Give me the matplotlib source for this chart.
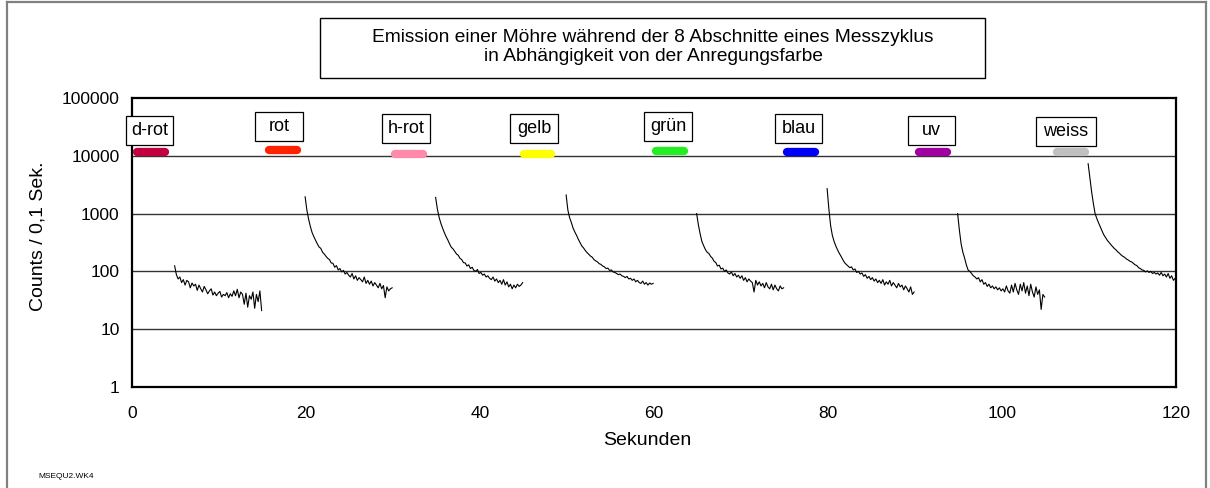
import numpy as np
import matplotlib.pyplot as plt
from matplotlib.patches import Rectangle
from matplotlib.lines import Line2D

plt.rcParams['font.family'] = ['Liberation Sans', 'DejaVu Sans']

# --- Messdaten: 8 Abschnitte, Zaehlrate alle 0,2 s ab Messbeginn ---
farben = ['d-rot', 'rot', 'h-rot', 'gelb', 'grün', 'blau', 'uv', 'weiss']
mess_start = [4.9, 19.9, 34.9, 49.9, 64.9, 79.9, 94.9, 109.9]
dt = 0.2
# Anregung (Lampe an) je Abschnitt, Sekunden
anreg_von = [0.6, 15.8, 30.25, 45.0, 60.2, 75.3, 90.5, 106.3]
anreg_bis = [3.8, 19.0, 33.45, 48.2, 63.4, 78.5, 93.7, 109.5]

counts_drot = [125, 88, 74, 80, 64, 72, 58, 70, 66, 52, 63, 56, 60, 47, 58, 50,
               44, 55, 48, 41, 46, 50, 39, 44, 38, 42, 45, 36, 40, 38, 43, 35,
               41, 37, 46, 38, 49, 35, 44, 40, 27, 42, 24, 38, 33, 44, 23, 40,
               30, 46, 21]
counts_rot = [1950, 1150, 800, 600, 470, 400, 345, 300, 265, 250, 215, 200, 182,
              168, 160, 140, 138, 118, 126, 106, 112, 98, 104, 90, 96, 86, 80,
              92, 74, 84, 70, 78, 72, 66, 80, 62, 70, 60, 68, 56, 64, 58, 52, 62,
              50, 57, 35, 54, 46, 50, 52]
counts_hrot = [1900, 1200, 860, 680, 560, 470, 400, 350, 300, 262, 245, 222, 200,
               190, 168, 160, 142, 140, 124, 130, 112, 118, 104, 100, 108, 92, 96,
               86, 90, 80, 84, 76, 72, 80, 68, 74, 64, 70, 60, 72, 58, 66, 54, 60,
               50, 58, 52, 60, 55, 58, 64]
counts_gelb = [2100, 1150, 850, 700, 560, 480, 420, 360, 315, 275, 255, 230, 212,
               198, 184, 176, 160, 152, 146, 136, 132, 124, 120, 112, 114, 104,
               106, 98, 96, 92, 88, 90, 84, 82, 78, 82, 74, 76, 70, 74, 66, 70,
               64, 62, 68, 60, 64, 58, 63, 60, 62]
counts_gruen = [1000, 640, 450, 330, 280, 240, 215, 205, 182, 170, 150, 142, 124,
                128, 110, 114, 100, 106, 94, 90, 98, 84, 92, 80, 86, 76, 84, 70,
                78, 66, 74, 68, 64, 44, 70, 58, 66, 56, 62, 52, 64, 54, 50, 60, 48,
                58, 50, 46, 56, 50, 52]
counts_blau = [2700, 1200, 620, 420, 330, 275, 235, 205, 182, 160, 142, 132, 124,
               116, 120, 106, 110, 96, 100, 90, 94, 82, 88, 76, 82, 72, 78, 68, 74,
               64, 70, 62, 72, 58, 66, 60, 70, 56, 64, 58, 52, 62, 54, 58, 48, 56,
               50, 44, 54, 40, 44]
counts_uv = [1000, 520, 300, 215, 170, 130, 106, 100, 92, 84, 80, 74, 78, 66, 72,
             60, 64, 55, 60, 52, 56, 50, 54, 48, 52, 46, 50, 44, 56, 46, 42, 58,
             44, 62, 48, 40, 60, 46, 64, 42, 56, 38, 60, 44, 36, 54, 40, 48, 22,
             40, 36]
counts_weiss = [7300, 4200, 2400, 1500, 1000, 820, 690, 590, 500, 430, 385, 345,
                318, 292, 270, 250, 236, 218, 206, 192, 182, 175, 164, 158, 150,
                146, 138, 130, 126, 116, 112, 106, 104, 98, 102, 96, 100, 92, 96,
                90, 94, 86, 96, 84, 90, 80, 92, 76, 84, 70, 76]

alle_counts = [counts_drot, counts_rot, counts_hrot, counts_gelb,
               counts_gruen, counts_blau, counts_uv, counts_weiss]

# --- Layout ---
balken_farbe = ['#C2003F', '#FF2200', '#FF8AAA', '#FFFF00',
                '#22EE22', '#0000F5', '#A000A0', '#C0C0C0']
balken_y = [11600, 12400, 10700, 10700, 12200, 11600, 11600, 11600]
box_x = [2.03, 16.88, 31.5, 46.2, 61.6, 76.6, 91.9, 107.35]
box_logy = [4.44, 4.50, 4.47, 4.47, 4.50, 4.47, 4.44, 4.42]
box_breite = [5.45, 5.45, 5.45, 5.45, 5.45, 5.45, 5.5, 6.85]

fig = plt.figure(figsize=(12.1, 4.88), dpi=100)
ax = fig.add_axes([132 / 1210, 1 - 387 / 488, 1044 / 1210, 289 / 488])

for t0, werte in zip(mess_start, alle_counts):
    t = t0 + dt * np.arange(len(werte))
    ax.plot(t, werte, color='black', lw=0.8)

for i in range(len(farben)):
    ax.plot([anreg_von[i], anreg_bis[i]], [balken_y[i], balken_y[i]],
            color=balken_farbe[i], lw=6, solid_capstyle='round', zorder=4,
            clip_on=False)
    lo = 10 ** (box_logy[i] - 0.25)
    hi = 10 ** (box_logy[i] + 0.25)
    ax.add_patch(Rectangle((box_x[i] - box_breite[i] / 2, lo), box_breite[i],
                           hi - lo, facecolor='white', edgecolor='black',
                           lw=0.9, zorder=5, clip_on=False))
    ax.text(box_x[i], 10 ** box_logy[i], farben[i], ha='center', va='center',
            fontsize=13, zorder=6, clip_on=False)

ax.set_yscale('log')
ax.set_ylim(1, 100000)
ax.set_xlim(0, 120)
ax.set_yticks([1, 10, 100, 1000, 10000, 100000])
ax.set_yticklabels(['1', '10', '100', '1000', '10000', '100000'])
ax.yaxis.set_minor_locator(plt.NullLocator())
ax.set_xticks([0, 20, 40, 60, 80, 100, 120])
ax.tick_params(axis='both', length=0, labelsize=12.5)
ax.tick_params(axis='y', pad=9)
ax.tick_params(axis='x', pad=14)
for y in [10, 100, 1000, 10000]:
    ax.axhline(y, color='#333333', lw=1.0, zorder=1)
for s in ax.spines.values():
    s.set_linewidth(1.6)

ax.set_xlabel('Sekunden', fontsize=14)
ax.xaxis.set_label_coords(0.494, -0.155)
ax.set_ylabel('Counts / 0,1 Sek.', fontsize=14)
ax.yaxis.set_label_coords(-0.082, 0.52)

# Titelkasten
fig.add_artist(Rectangle((320 / 1210, 1 - 78 / 488), 665 / 1210, 60 / 488,
                         transform=fig.transFigure, facecolor='white',
                         edgecolor='black', lw=1.0))
fig.text(653 / 1210, 1 - 47 / 488,
         'Emission einer Möhre während der 8 Abschnitte eines Messzyklus\n'
         'in Abhängigkeit von der Anregungsfarbe',
         ha='center', va='center', fontsize=13.8, linespacing=1.15)

fig.text(38 / 1210, 1 - 476 / 488, 'MSEQU2.WK4', fontsize=6, va='center')

# Rahmen um die Seite
rand = dict(transform=fig.transFigure, color='#808080', lw=1.6)
fig.add_artist(Line2D([7 / 1210, 7 / 1210], [0, 1 - 1.5 / 488], **rand))
fig.add_artist(Line2D([7 / 1210, 1206 / 1210], [1 - 1.5 / 488, 1 - 1.5 / 488], **rand))
fig.add_artist(Line2D([1206 / 1210, 1206 / 1210], [1 - 1.5 / 488, 0], **rand))

fig.savefig('out.png', dpi=100)
